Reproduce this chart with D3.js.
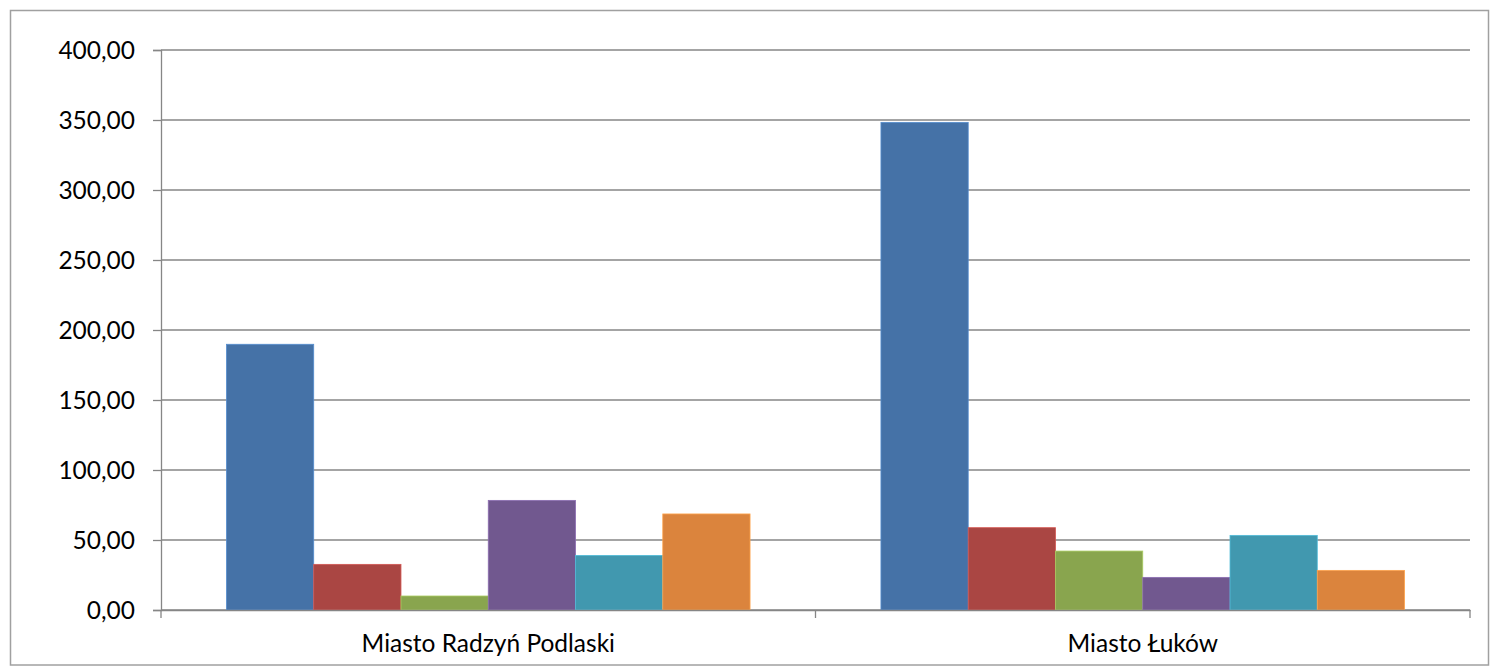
<!DOCTYPE html>
<html>
<head>
<meta charset="utf-8">
<script src="https://cdn.jsdelivr.net/npm/d3@7"></script>
<style>
  body { margin: 0; background: #fff; }
  svg { display: block; }
  text { font-family: Lato, "Open Sans", sans-serif; fill: #000; }
</style>
</head>
<body>
<svg id="chart"></svg>
<script>
const categories = ["Miasto Radzyń Podlaski", "Miasto Łuków"];
const seriesNames = ["Seria 1", "Seria 2", "Seria 3", "Seria 4", "Seria 5", "Seria 6"];
const seria1 = [189.8, 348.3];
const seria2 = [32.6, 58.8];
const seria3 = [10.0, 42.1];
const seria4 = [78.3, 23.3];
const seria5 = [39.0, 53.3];
const seria6 = [68.6, 28.3];
const yTicks = [0, 50, 100, 150, 200, 250, 300, 350, 400];

const seriesValues = [seria1, seria2, seria3, seria4, seria5, seria6];
const colors = ["#4572A7", "#AA4643", "#89A54E", "#71588F", "#4198AF", "#DB843D"];

const width = 1490;
const height = 668;
const margin = { top: 50, right: 20, bottom: 58, left: 161 };

const svg = d3.select("#chart")
  .attr("width", width)
  .attr("height", height);

// outer frame
svg.append("rect")
  .attr("x", 10.5)
  .attr("y", 10.5)
  .attr("width", 1478)
  .attr("height", 654.5)
  .attr("fill", "none")
  .attr("stroke", "#a0a0a0")
  .attr("stroke-width", 1.5);

const x0 = d3.scaleBand()
  .domain(categories)
  .range([margin.left, width - margin.right])
  .paddingInner(0)
  .paddingOuter(0);

const x1 = d3.scaleBand()
  .domain(seriesNames)
  .range([0, x0.bandwidth()])
  .paddingOuter(0.75);

const y = d3.scaleLinear()
  .domain([0, 400])
  .range([height - margin.bottom, margin.top]);

const color = d3.scaleOrdinal()
  .domain(seriesNames)
  .range(colors);

// gridlines
svg.append("g")
  .selectAll("line")
  .data(yTicks)
  .join("line")
  .attr("x1", margin.left)
  .attr("x2", width - margin.right)
  .attr("y1", d => y(d))
  .attr("y2", d => y(d))
  .attr("stroke", "#868686")
  .attr("stroke-width", 1.3);

// y axis
const yAxis = svg.append("g")
  .attr("transform", `translate(${margin.left},0)`)
  .call(d3.axisLeft(y)
    .tickValues(yTicks)
    .tickSize(8)
    .tickFormat(d => d3.format(".2f")(d).replace(".", ",")));

yAxis.select(".domain").attr("stroke", "#868686").attr("stroke-width", 1.3);
yAxis.selectAll(".tick line").attr("stroke", "#868686").attr("stroke-width", 1.3);
yAxis.selectAll(".tick text")
  .attr("x", -26)
  .attr("dy", "0.36em")
  .style("font-size", "24.5px");

// bars
const groups = svg.append("g")
  .selectAll("g")
  .data(categories)
  .join("g")
  .attr("transform", d => `translate(${x0(d)},0)`);

groups.selectAll("rect")
  .data((c, i) => seriesNames.map((s, j) => ({ s, v: seriesValues[j][i] })))
  .join("rect")
  .attr("x", d => x1(d.s))
  .attr("width", x1.bandwidth())
  .attr("y", d => y(d.v))
  .attr("height", d => y(0) - y(d.v))
  .attr("fill", d => color(d.s))
  .attr("stroke", d => d3.color(color(d.s)).brighter(0.6))
  .attr("stroke-width", 0.8);

// x axis
const xAxis = svg.append("g")
  .attr("transform", `translate(0,${y(0)})`)
  .call(d3.axisBottom(x0).tickSize(0).tickPadding(0));

xAxis.select(".domain").attr("stroke", "#868686").attr("stroke-width", 1.3);
xAxis.selectAll(".tick text")
  .attr("y", 42)
  .attr("dy", 0)
  .style("font-size", "24.5px");

// category boundary ticks
const bounds = [x0(categories[0]), ...categories.map(c => x0(c) + x0.bandwidth())];
svg.append("g")
  .selectAll("line")
  .data(bounds)
  .join("line")
  .attr("x1", d => d)
  .attr("x2", d => d)
  .attr("y1", y(0))
  .attr("y2", y(0) + 8)
  .attr("stroke", "#868686")
  .attr("stroke-width", 1.3);
</script>
</body>
</html>
